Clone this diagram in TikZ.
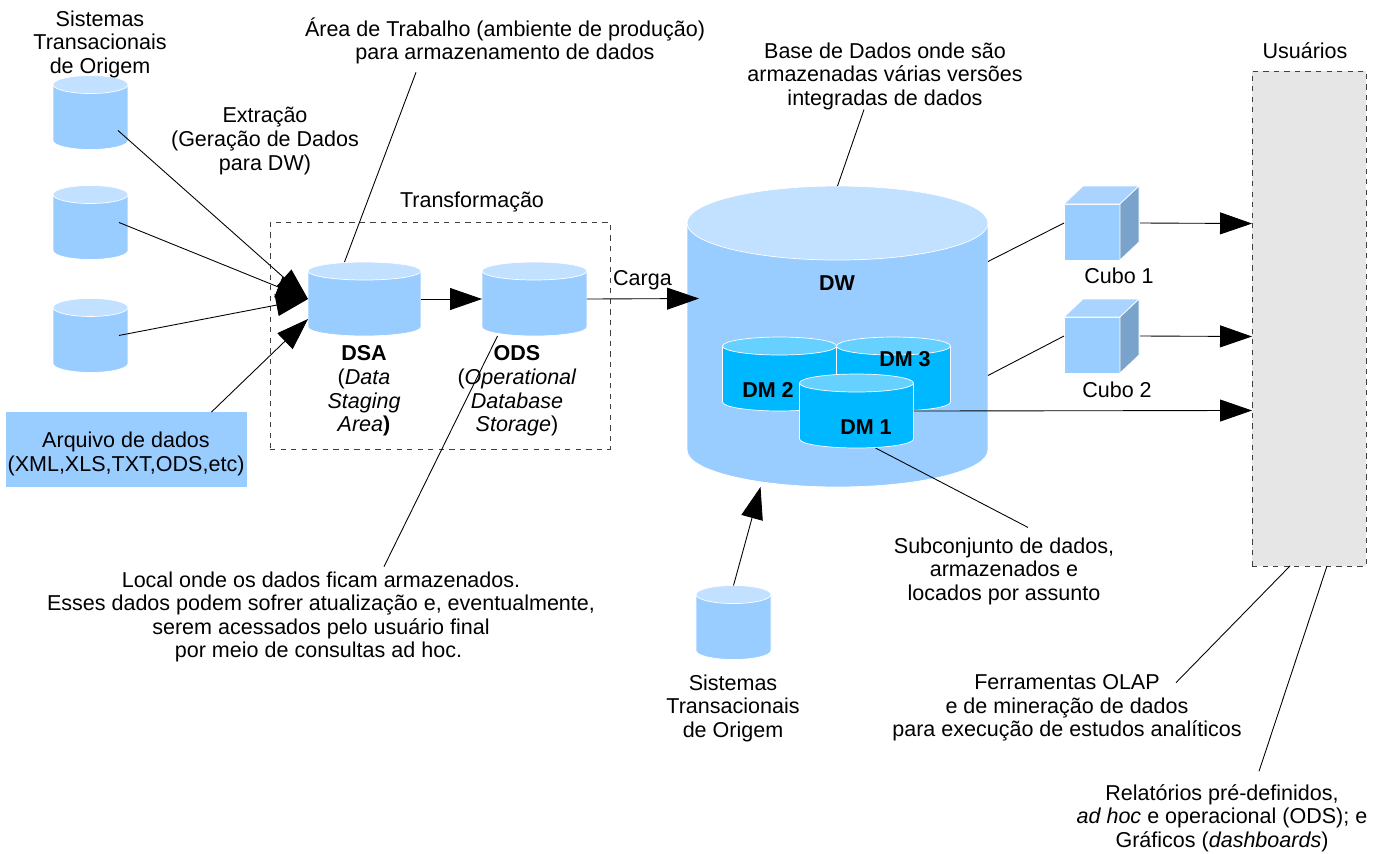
\documentclass[tikz,border=0pt]{standalone}
\usepackage{fontspec}
\setmainfont{Liberation Sans}
\usepackage{xcolor}
\usepackage{tikz}
\usetikzlibrary{arrows.meta,positioning}
\definecolor{dwblue}{RGB}{153,204,255}
\definecolor{dwlightblue}{RGB}{194,224,255}
\definecolor{dmblue}{RGB}{0,184,255}
\definecolor{dmlightblue}{RGB}{102,208,255}
\definecolor{cubetop}{RGB}{170,212,255}
\definecolor{cubeside}{RGB}{122,163,204}
\definecolor{usergray}{RGB}{230,230,230}
\definecolor{dashgray}{RGB}{64,64,64}
\newcommand{\labelfont}{\fontsize{12.25}{13.4}\selectfont}
\tikzstyle{arrow} = [-{Triangle[length=0.64cm,width=0.44cm]},color=black,line width=0.5pt]
\tikzstyle{callout} = [color=black,line width=0.5pt]
\tikzstyle{txt} = [font=\labelfont, align=center, inner sep=0pt, outer sep=0pt]
\tikzstyle{boldtxt} = [txt, font=\labelfont\bfseries]
\tikzset{dbase/.style n args={5}{rectangle, inner sep=0pt, outer sep=0pt, minimum width=#3cm, minimum height=#4cm,
  append after command={\pgfextra{\let\dbnode\tikzlastnode
    \fill[#1, draw=white, line width=0.4pt] ([yshift=-#5cm]\dbnode.north west) -- ([yshift=#5cm]\dbnode.south west)
      arc[start angle=180, end angle=360, x radius={#3/2*1cm}, y radius=#5cm] -- ([yshift=-#5cm]\dbnode.north east) -- cycle;
    \fill[#2, draw=white, line width=0.4pt] ([yshift=-#5cm]\dbnode.north) ellipse[x radius={#3/2*1cm}, y radius=#5cm];
  }}}}
\tikzstyle{srcdb} = [dbase={dwblue}{dwlightblue}{1.5}{1.48}{0.18}]
\tikzstyle{stagedb} = [dbase={dwblue}{dwlightblue}{2.26}{1.48}{0.18}]
\tikzstyle{opdb} = [dbase={dwblue}{dwlightblue}{2.1}{1.48}{0.18}]
\tikzstyle{martdb} = [dbase={dmblue}{dmlightblue}{2.28}{1.48}{0.18}]
\tikzstyle{cubeface} = [rectangle, fill=dwblue, draw=white, line width=0.4pt, minimum width=1.12cm, minimum height=1.12cm, inner sep=0pt, outer sep=0pt]
\tikzstyle{dashedbox} = [rectangle, dashed, draw=dashgray, line width=0.5pt, inner sep=0pt, outer sep=0pt]
\begin{document}
\begin{tikzpicture}[x=0.02cm,y=-0.02cm]
\useasboundingbox (0,0) rectangle (1386,853);

% Source systems
\node[srcdb] (cylA) at (90.5,112.5) {};
\node[srcdb, below=0.72cm of cylA] (cylB) {};
\node[srcdb, below=0.78cm of cylB] (cylC) {};
\node[txt] (srcTxt) at (100,44) {Sistemas\\Transacionais\\de Origem};
\node[txt] (extTxt) at (265,141) {Extração\\(Geração de Dados\\para DW)};

% Data file
\node[rectangle, fill=dwblue, minimum width=4.82cm, minimum height=1.5cm, inner sep=0pt, outer sep=0pt] (fileBox) at (126.5,449.5) {};
\node[txt] (fileTxt) at (126,454) {Arquivo de dados\\(XML,XLS,TXT,ODS,etc)};

% Transformation area
\node[dashedbox, minimum width=6.8cm, minimum height=4.54cm] (trBox) at (440,335.5) {};
\node[txt, above=0.2cm of trBox, xshift=0.64cm] (trTxt) {Transformação};
\node[stagedb] (dsa) at (364.5,299) {};
\node[opdb] (ods) at (534.5,299) {};
\node[txt, text width=2cm] (dsaTxt) at (364,391) {\textbf{DSA}\\(\textit{Data}\\\textit{Staging}\\ \textit{Area}\textbf{)}};
\node[txt, text width=2.6cm] (odsTxt) at (517,391) {\textbf{ODS}\\(\textit{Operational}\\\textit{Database}\\\textit{Storage})};
\node[txt] (areaTxt) at (505,41) {Área de Trabalho (ambiente de produção)\\para armazenamento de dados};
\node[txt] (localTxt) at (321,617) {Local onde os dados ficam armazenados.\\Esses dados podem sofrer atualização e, eventualmente,\\serem acessados pelo usuário final\hspace*{0.32cm}\\por meio de consultas ad hoc.\hspace*{0.1cm}};

% Data warehouse
\node[dbase={dwblue}{dwlightblue}{6.02}{6.02}{0.74}] (dw) at (837.5,336.5) {};
\node[boldtxt] (dwTxt) at (837,283) {DW};
\node[martdb] (dmB) at (779.5,374) {};
\node[martdb] (dmC) at (893.5,374) {};
\node[martdb] (dmA) at (856.5,411) {};
\node[boldtxt] (dmCTxt) at (905,359) {DM 3};
\node[boldtxt] (dmBTxt) at (768,390) {DM 2};
\node[boldtxt] (dmATxt) at (866,427) {DM 1};
\node[txt] (baseTxt) at (885,76) {Base de Dados onde são\\armazenadas várias versões\\integradas de dados};
\node[txt] (subTxt) at (1004,571) {Subconjunto de dados,\\armazenados e\\locados por assunto};

% Source below the warehouse
\node[srcdb] (cylD) at (733.5,622.5) {};
\node[txt] (srcTxtB) at (733,708) {Sistemas\\Transacionais\\de Origem};

% Cubes
\node[cubeface] (cubeA) at (1092,232) {};
\node[cubeface] (cubeB) at (1092,345) {};
\foreach \c in {cubeA,cubeB} {
  \fill[cubetop, draw=white, line width=0.4pt] (\c.north west) -- ++(0.38cm,0.36cm) -- ++(1.12cm,0) -- (\c.north east) -- cycle;
  \fill[cubeside, draw=white, line width=0.4pt] (\c.north east) -- ++(0.38cm,0.36cm) -- ++(0,-1.12cm) -- (\c.south east) -- cycle;
}
\node[txt] (cubeATxt) at (1119,276) {Cubo 1};
\node[txt] (cubeBTxt) at (1117,390) {Cubo 2};

% Users
\node[dashedbox, fill=usergray, minimum width=2.28cm, minimum height=9.9cm] (users) at (1309,318.5) {};
\node[txt, above=0.24cm of users, xshift=-0.08cm] (usersTxt) {Usuários};
\node[txt] (olapTxt) at (1067,708) {Ferramentas OLAP\\e de mineração de dados\\para execução de estudos analíticos};
\node[txt] (repTxt) at (1222,818) {Relatórios pré-definidos,\\\textit{ad hoc} e operacional (ODS); e\\Gráficos (\textit{dashboards})};
\node[txt, above=0.1cm of ods, xshift=2.16cm, yshift=-0.66cm] (cargaTxt) {Carga};

% Extraction
\draw[arrow] ([xshift=-0.2cm,yshift=-0.36cm]cylA.east) -- (dsa.west);
\draw[arrow] ([xshift=-0.18cm]cylB.east) -- (dsa.west);
\draw[arrow] ([xshift=-0.18cm]cylC.east) -- (dsa.west);
\draw[arrow] ([xshift=1.7cm]fileBox.north) -- ([yshift=-0.4cm]dsa.west);

% Load
\draw[arrow] (dsa.east) -- (ods.west);
\draw[arrow] (ods.east) -- ([xshift=0.24cm,yshift=0.76cm]dw.west);
\draw[arrow] (cylD.north) -- ([xshift=-1.54cm]dw.south);

% Towards the users
\draw[callout] ([yshift=1.5cm]dw.east) -- ([yshift=0.18cm]cubeA.west);
\draw[callout] ([yshift=-0.78cm]dw.east) -- ([yshift=0.18cm]cubeB.west);
\draw[arrow] ([xshift=0.4cm,yshift=0.18cm]cubeA.east) -- ([yshift=1.9cm]users.west);
\draw[arrow] ([xshift=0.4cm,yshift=0.18cm]cubeB.east) -- ([yshift=-0.36cm]users.west);
\draw[arrow] (dmA.east) -- ([yshift=-1.84cm]users.west);

% Callouts
\draw[callout] ([xshift=-1.78cm,yshift=-0.16cm]areaTxt.south) -- ([xshift=-0.4cm]dsa.north);
\draw[callout] ([xshift=-0.42cm]baseTxt.south) -- (dw.north);
\draw[callout] ([xshift=-0.74cm]ods.south) -- ([xshift=1.26cm,yshift=0.1cm]localTxt.north);
\draw[callout] ([xshift=0.38cm]dmA.south) -- ([xshift=0.48cm,yshift=0.2cm]subTxt.north);
\draw[callout] ([xshift=-0.38cm]users.south) -- ([xshift=2.18cm,yshift=-0.16cm]olapTxt.north);
\draw[callout] ([xshift=0.36cm]users.south) -- ([xshift=0.74cm,yshift=0.26cm]repTxt.north);
\end{tikzpicture}
\end{document}
